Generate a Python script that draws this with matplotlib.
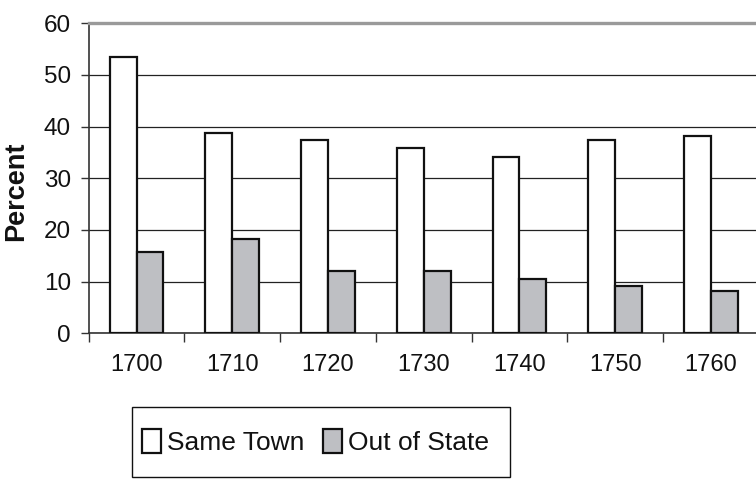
import matplotlib
matplotlib.use("Agg")
import matplotlib.pyplot as plt
from matplotlib.patches import Rectangle
import numpy as np

years = ["1700", "1710", "1720", "1730", "1740", "1750", "1760"]
same_town = [53.4, 38.7, 37.5, 35.8, 34.1, 37.5, 38.2]
out_of_state = [15.7, 18.2, 12.1, 12.1, 10.5, 9.2, 8.1]
y_ticks = [0, 10, 20, 30, 40, 50, 60]

plt.rcParams["font.family"] = ["Liberation Sans", "DejaVu Sans"]

W, H = 756, 479
fig = plt.figure(figsize=(W / 100, H / 100), dpi=100)
ax = fig.add_axes([0.1173, 0.3041, 0.8863, 0.6472])

x = np.arange(len(years))
w = 0.28
ax.bar(x - w / 2, same_town, w, color="white", edgecolor="#111111",
       linewidth=1.6, label="Same Town", zorder=3)
ax.bar(x + w / 2, out_of_state, w, color="#bebfc3", edgecolor="#111111",
       linewidth=1.6, label="Out of State", zorder=3)

ax.set_xlim(-0.5, len(years) - 0.5)
ax.set_ylim(0, 60)
ax.set_yticks(y_ticks)
ax.set_xticks(x)
ax.set_xticklabels(years)
ax.set_xticks(np.arange(len(years) + 1) - 0.5, minor=True)
ax.tick_params(axis="x", which="major", length=0, pad=15, labelsize=17,
               labelcolor="#111111")
ax.tick_params(axis="x", which="minor", length=6.5, width=1.0, color="#333333")
ax.tick_params(axis="y", length=5.8, width=1.0, color="#333333", pad=7,
               labelsize=17.5, labelcolor="#111111")

ax.grid(axis="y", color="#222222", linewidth=0.9, zorder=0)
for side in ("left", "bottom"):
    ax.spines[side].set_color("#333333")
    ax.spines[side].set_linewidth(1.2)
ax.spines["right"].set_visible(False)
ax.spines["top"].set_color("#9a9a9a")
ax.spines["top"].set_linewidth(2.4)

fig.text(16 / W, 1 - 191 / H, "Percent", rotation=90, ha="center",
         va="center", fontsize=19.5, fontweight="bold", color="#111111")

# legend without its own frame, boxed by a plain rectangle
leg = fig.legend(loc="center left", bbox_to_anchor=(141.7 / W, 1 - 442 / H),
                 ncol=2, frameon=False, fontsize=19,
                 handlelength=0.72, handleheight=1.0, handletextpad=0.23,
                 columnspacing=0.72, borderpad=0, borderaxespad=0)
for t in leg.get_texts():
    t.set_color("#111111")
fig.patches.append(Rectangle((131.7 / W, 1 - 477 / H), (510 - 131.7) / W,
                             (477 - 406.7) / H, transform=fig.transFigure,
                             fill=False, edgecolor="#111111", linewidth=1.0))

fig.savefig("out.png", dpi=100)
